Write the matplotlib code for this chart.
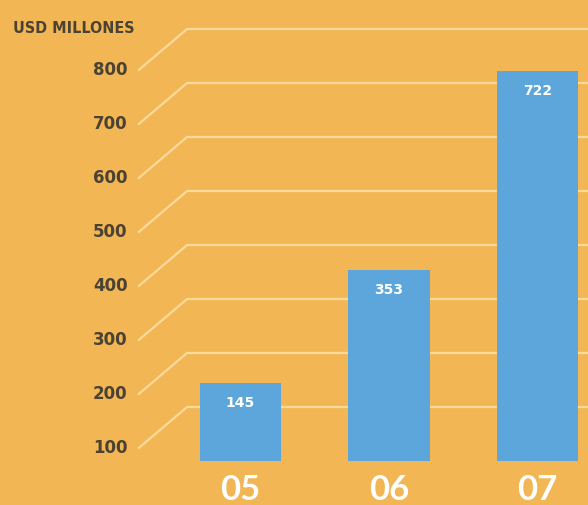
import matplotlib
matplotlib.use('Agg')
import matplotlib.pyplot as plt
import numpy as np

years = ['05', '06', '07']
values = [145, 353, 722]
ticks = [100, 200, 300, 400, 500, 600, 700, 800]
unit_label = 'USD MILLONES'

bg = '#F3B654'
bar_col = '#5CA6DB'
grid_col = '#FBDA9C'
txt_col = '#4A4233'

fig = plt.figure(figsize=(5.88, 5.06), dpi=100, facecolor=bg)
ax = fig.add_axes([0, 0, 1, 1])
ax.set_facecolor(bg)
ax.set_xlim(-1.62, 2.34)
ax.set_ylim(-81.5, 855.5)
ax.axis('off')

# pseudo-3d gridlines: a diagonal from the label, then flat to the right
drop = 77
x0, x1 = -0.69, -0.36
for t in ticks:
    ax.plot([x0, x1, 2.4], [t - drop, t, t], color=grid_col, lw=1.6, zorder=1,
            solid_capstyle='butt')
    ax.text(-0.76, t - drop + 3, str(t), ha='right', va='center',
            fontsize=12, fontweight='bold', color=txt_col)

ax.text(-1.535, 803, unit_label, ha='left', va='center', fontsize=11.5,
        fontweight='bold', color=txt_col, fontstretch='condensed')

xs = np.arange(len(years))
ax.bar(xs, values, width=0.55, color=bar_col, zorder=2)
for x, v in zip(xs, values):
    ax.text(x, v - 35, str(v), ha='center', va='center', fontsize=10,
            fontweight='bold', color='white', zorder=3)
    ax.text(x, -52, years[x], ha='center', va='center', fontsize=25,
            fontweight='bold', color='white', family=['Lato', 'DejaVu Sans'])

fig.savefig('out.png', dpi=100, facecolor=bg)
